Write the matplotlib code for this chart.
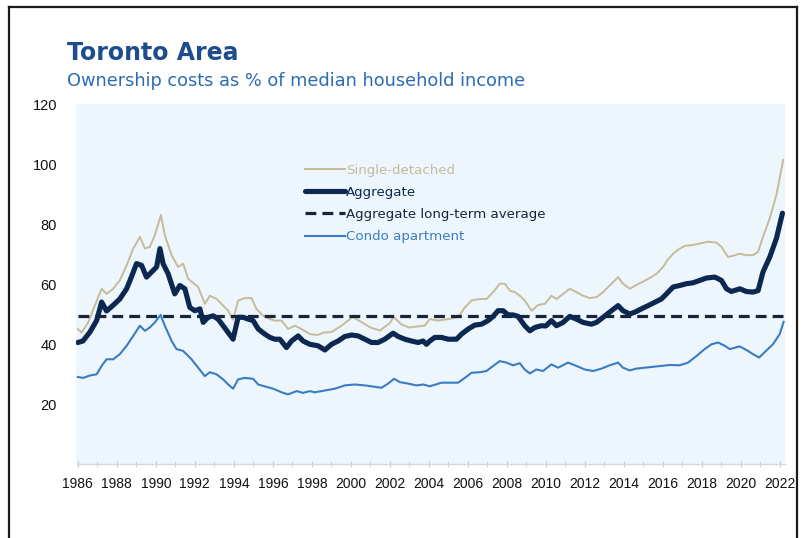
import matplotlib
matplotlib.use("Agg")
import matplotlib.pyplot as plt
from matplotlib.lines import Line2D

# ---- series: (decimal year, % of median household income) ----
agg_t = [1986.0, 1986.26, 1986.62, 1986.96, 1987.22, 1987.47, 1987.79, 1988.15, 1988.5, 1988.75,
         1989.01, 1989.27, 1989.52, 1989.86, 1990.04, 1990.21, 1990.37, 1990.63, 1990.97, 1991.23,
         1991.49, 1991.74, 1992.0, 1992.26, 1992.43, 1992.68, 1992.94, 1993.19, 1993.45, 1993.71,
         1993.96, 1994.22, 1994.48, 1994.73, 1994.99, 1995.25, 1995.59, 1995.85, 1996.1, 1996.36,
         1996.7, 1996.96, 1997.3, 1997.55, 1997.9, 1998.32, 1998.67, 1999.01, 1999.35, 1999.69,
         2000.04, 2000.37, 2000.72, 2001.06, 2001.4, 2001.74, 2002.17, 2002.43, 2002.77, 2003.11,
         2003.45, 2003.71, 2003.88, 2004.05, 2004.31, 2004.65, 2004.99, 2005.42, 2005.68, 2006.02,
         2006.36, 2006.7, 2007.04, 2007.3, 2007.55, 2007.81, 2008.07, 2008.32, 2008.58, 2008.92,
         2009.18, 2009.44, 2009.78, 2010.0, 2010.29, 2010.55, 2010.89, 2011.23, 2011.57, 2011.91,
         2012.34, 2012.6, 2012.94, 2013.37, 2013.71, 2013.96, 2014.31, 2014.56, 2014.9, 2015.25,
         2015.59, 2015.93, 2016.19, 2016.53, 2016.87, 2017.22, 2017.55, 2017.9, 2018.24, 2018.67,
         2019.01, 2019.27, 2019.52, 2019.95, 2020.29, 2020.63, 2020.89, 2021.14, 2021.49, 2021.83,
         2022.14]
agg_v = [40.5, 41.0, 44.0, 47.8, 54.0, 51.0, 52.8, 55.0, 58.4, 62.4,
         66.8, 66.2, 62.3, 64.5, 65.7, 71.8, 66.8, 63.4, 56.7, 59.5,
         58.4, 52.2, 51.1, 51.7, 47.2, 48.9, 49.4, 48.3, 46.1, 43.8,
         41.6, 48.9, 48.9, 48.3, 47.8, 45.0, 43.3, 42.2, 41.6, 41.6,
         38.8, 41.0, 42.7, 41.0, 39.9, 39.4, 38.0, 39.9, 41.0, 42.5,
         43.0, 42.7, 41.6, 40.5, 40.5, 41.6, 43.6, 42.5, 41.6, 41.0,
         40.5, 41.0, 39.9, 41.0, 42.2, 42.2, 41.6, 41.6, 43.3, 45.0,
         46.3, 46.6, 47.8, 49.2, 51.1, 51.1, 49.7, 49.7, 49.2, 46.1,
         44.4, 45.5, 46.1, 46.0, 47.8, 46.1, 47.2, 49.2, 48.3, 47.2,
         46.6, 47.2, 48.9, 51.1, 52.8, 51.1, 50.0, 50.6, 51.7, 52.8,
         53.9, 55.0, 56.7, 59.0, 59.5, 60.1, 60.4, 61.2, 62.0, 62.3,
         61.2, 58.4, 57.5, 58.4, 57.5, 57.3, 57.8, 64.0, 69.0, 75.2,
         83.6]

sd_t = [1986.0, 1986.19, 1986.53, 1986.87, 1987.22, 1987.47, 1987.81, 1988.15, 1988.5, 1988.84,
        1989.18, 1989.44, 1989.69, 1989.95, 1990.26, 1990.46, 1990.81, 1991.14, 1991.4, 1991.66,
        1992.17, 1992.51, 1992.77, 1993.11, 1993.45, 1993.71, 1993.96, 1994.22, 1994.56, 1994.91,
        1995.16, 1995.5, 1995.85, 1996.1, 1996.45, 1996.78, 1997.13, 1997.47, 1997.9, 1998.3,
        1998.6, 1999.0, 1999.5, 2000.1, 2000.5, 2001.0, 2001.5, 2002.0, 2002.2, 2002.6,
        2003.0, 2003.6, 2003.79, 2004.05, 2004.48, 2004.99, 2005.5, 2005.85, 2006.19, 2006.62,
        2006.96, 2007.3, 2007.64, 2007.9, 2008.15, 2008.41, 2008.67, 2008.92, 2009.27, 2009.61,
        2009.95, 2010.29, 2010.55, 2010.89, 2011.23, 2011.57, 2011.91, 2012.26, 2012.6, 2012.94,
        2013.37, 2013.71, 2013.96, 2014.31, 2014.65, 2014.99, 2015.33, 2015.68, 2016.02, 2016.25,
        2016.53, 2016.87, 2017.13, 2017.55, 2017.9, 2018.32, 2018.75, 2019.01, 2019.35, 2019.6,
        2019.95, 2020.29, 2020.63, 2020.89, 2021.14, 2021.49, 2021.83, 2022.18]
sd_v = [45.0, 43.8, 47.2, 52.8, 58.4, 56.7, 58.4, 61.2, 66.2, 71.8,
        75.7, 71.8, 72.4, 76.3, 83.0, 76.3, 69.6, 65.7, 66.8, 61.7,
        59.0, 53.4, 56.1, 55.0, 52.8, 51.1, 48.1, 54.5, 55.3, 55.3,
        51.7, 49.4, 48.3, 47.8, 47.8, 45.0, 46.1, 45.0, 43.3, 43.0,
        43.8, 44.0, 46.0, 49.0, 47.5, 45.5, 44.5, 47.0, 49.0, 46.5,
        45.5, 46.0, 46.1, 48.3, 47.8, 48.3, 48.9, 52.2, 54.5, 55.0,
        55.0, 57.3, 60.1, 60.1, 57.8, 57.3, 56.1, 54.5, 51.1, 53.0,
        53.4, 56.1, 55.0, 56.7, 58.4, 57.3, 56.1, 55.3, 55.6, 57.3,
        60.1, 62.3, 60.1, 58.4, 59.7, 60.8, 62.0, 63.4, 65.7, 68.0,
        70.1, 71.8, 72.7, 73.0, 73.5, 74.1, 73.8, 72.4, 69.0, 69.4,
        70.1, 69.6, 69.6, 70.7, 75.7, 81.9, 89.7, 101.4]

condo_t = [1986.0, 1986.27, 1986.62, 1986.96, 1987.22, 1987.47, 1987.81, 1988.15, 1988.5, 1988.84,
           1989.18, 1989.44, 1989.69, 1989.95, 1990.24, 1990.46, 1990.81, 1991.06, 1991.4, 1991.83,
           1992.17, 1992.51, 1992.77, 1993.11, 1993.45, 1993.71, 1993.96, 1994.22, 1994.56, 1994.99,
           1995.25, 1995.68, 1996.02, 1996.45, 1996.78, 1997.22, 1997.55, 1997.9, 1998.15, 1998.67,
           1999.18, 1999.69, 2000.21, 2000.72, 2001.06, 2001.57, 2001.91, 2002.22, 2002.51, 2002.94,
           2003.37, 2003.71, 2004.05, 2004.65, 2005.16, 2005.5, 2005.85, 2006.19, 2006.62, 2006.96,
           2007.3, 2007.64, 2007.98, 2008.32, 2008.67, 2008.92, 2009.18, 2009.52, 2009.86, 2010.29,
           2010.63, 2011.14, 2011.57, 2012.0, 2012.43, 2012.86, 2013.28, 2013.71, 2013.96, 2014.31,
           2014.65, 2015.08, 2015.5, 2015.93, 2016.36, 2016.87, 2017.3, 2017.73, 2018.15, 2018.5,
           2018.84, 2019.18, 2019.44, 2019.95, 2020.37, 2020.63, 2020.94, 2021.23, 2021.65, 2022.0,
           2022.2]
condo_v = [29.0, 28.7, 29.5, 29.9, 32.7, 34.9, 34.9, 36.6, 39.4, 42.7,
           46.1, 44.4, 45.5, 47.2, 49.7, 46.1, 41.0, 38.3, 37.7, 34.9,
           32.1, 29.3, 30.6, 29.9, 28.2, 26.5, 25.1, 28.2, 28.7, 28.4,
           26.5, 25.7, 25.1, 23.9, 23.2, 24.3, 23.7, 24.3, 23.9, 24.5,
           25.1, 26.2, 26.5, 26.2, 25.9, 25.4, 26.8, 28.4, 27.3, 26.8,
           26.2, 26.5, 25.9, 27.1, 27.1, 27.1, 28.7, 30.4, 30.6, 31.0,
           32.7, 34.3, 33.8, 32.9, 33.6, 31.5, 30.2, 31.5, 31.0, 33.2,
           32.1, 33.8, 32.7, 31.5, 31.0, 31.8, 32.9, 33.8, 32.1, 31.2,
           31.8, 32.1, 32.4, 32.7, 33.0, 32.9, 33.8, 36.0, 38.3, 39.9,
           40.5, 39.4, 38.3, 39.2, 37.7, 36.6, 35.5, 37.3, 39.9, 43.3,
           47.4]

long_term_avg = 49.5
avg_span = [1986.0, 2022.2]

year_ticks = list(range(1986, 2023, 2))
minor_years = list(range(1987, 2023, 2))
y_ticks = [20, 40, 60, 80, 100, 120]

labels = ["Single-detached", "Aggregate", "Aggregate long-term average", "Condo apartment"]

# ---- styling ----
C_SD = "#c4bb98"
C_AGG = "#0c2750"
C_AVG = "#17243a"
C_CONDO = "#3a7cc3"
C_TITLE = "#1d4d8f"
C_SUB = "#2c6cb4"

W, H = 804, 538
fig = plt.figure(figsize=(W / 100, H / 100), dpi=100)
fig.patch.set_facecolor("white")

L, R, T, B = 76.5, 785, 104, 464
ax = fig.add_axes([L / W, 1 - B / H, (R - L) / W, (B - T) / H])
ax.set_facecolor("#eef6fd")

ax.plot(sd_t, sd_v, color=C_SD, lw=1.4, label=labels[0], zorder=3)
ax.plot(agg_t, agg_v, color=C_AGG, lw=3.7, label=labels[1], zorder=5,
        solid_joinstyle="round", solid_capstyle="round")
ax.plot(avg_span, [long_term_avg, long_term_avg], color=C_AVG, lw=2.3,
        dashes=(3.4, 1.9), label=labels[2], zorder=4)
ax.plot(condo_t, condo_v, color=C_CONDO, lw=1.5, label=labels[3], zorder=3)

ax.set_xlim(1985.93, 2022.27)
ax.set_ylim(0, 120)

tick_font = ["Liberation Sans", "DejaVu Sans"]
ax.set_xticks(year_ticks)
ax.set_xticklabels([str(y) for y in year_ticks], family=tick_font, fontsize=10)
ax.set_xticks(minor_years, minor=True)
ax.set_yticks(y_ticks)
ax.set_yticklabels([str(v) for v in y_ticks], family=tick_font, fontsize=10.5)

for s in ["top", "right", "left"]:
    ax.spines[s].set_visible(False)
ax.spines["bottom"].set_color("#d4d8dc")
ax.spines["bottom"].set_linewidth(1.0)
ax.tick_params(axis="x", which="both", direction="inout", length=5, color="#c9ccd0",
               pad=7, labelcolor="#111111")
ax.tick_params(axis="y", length=0, pad=14, labelcolor="#111111")

leg = ax.legend(loc="upper left", bbox_to_anchor=((305 - L) / (R - L), (B - 164) / (B - T)),
                frameon=False, fontsize=9.6, handlelength=3.0, handletextpad=0.05,
                labelspacing=0.68, borderpad=0, borderaxespad=0, labelcolor="linecolor")

fig.text(67 / W, 1 - 53 / H, "Toronto Area", fontsize=17, fontweight="bold",
         color=C_TITLE, va="center", ha="left")
fig.text(67 / W, 1 - 81 / H, "Ownership costs as % of median household income",
         fontsize=12.8, color=C_SUB, va="center", ha="left")

# window frame around the chart
frame_kw = dict(color="#1a1a1a", lw=1.6, transform=fig.transFigure)
fig.add_artist(Line2D([9 / W, 9 / W], [0, 1 - 7 / H], **frame_kw))
fig.add_artist(Line2D([9 / W, 797 / W], [1 - 7 / H, 1 - 7 / H], **frame_kw))
fig.add_artist(Line2D([797 / W, 797 / W], [0, 1 - 7 / H], **frame_kw))

fig.savefig("out.png", dpi=100, facecolor="white")
